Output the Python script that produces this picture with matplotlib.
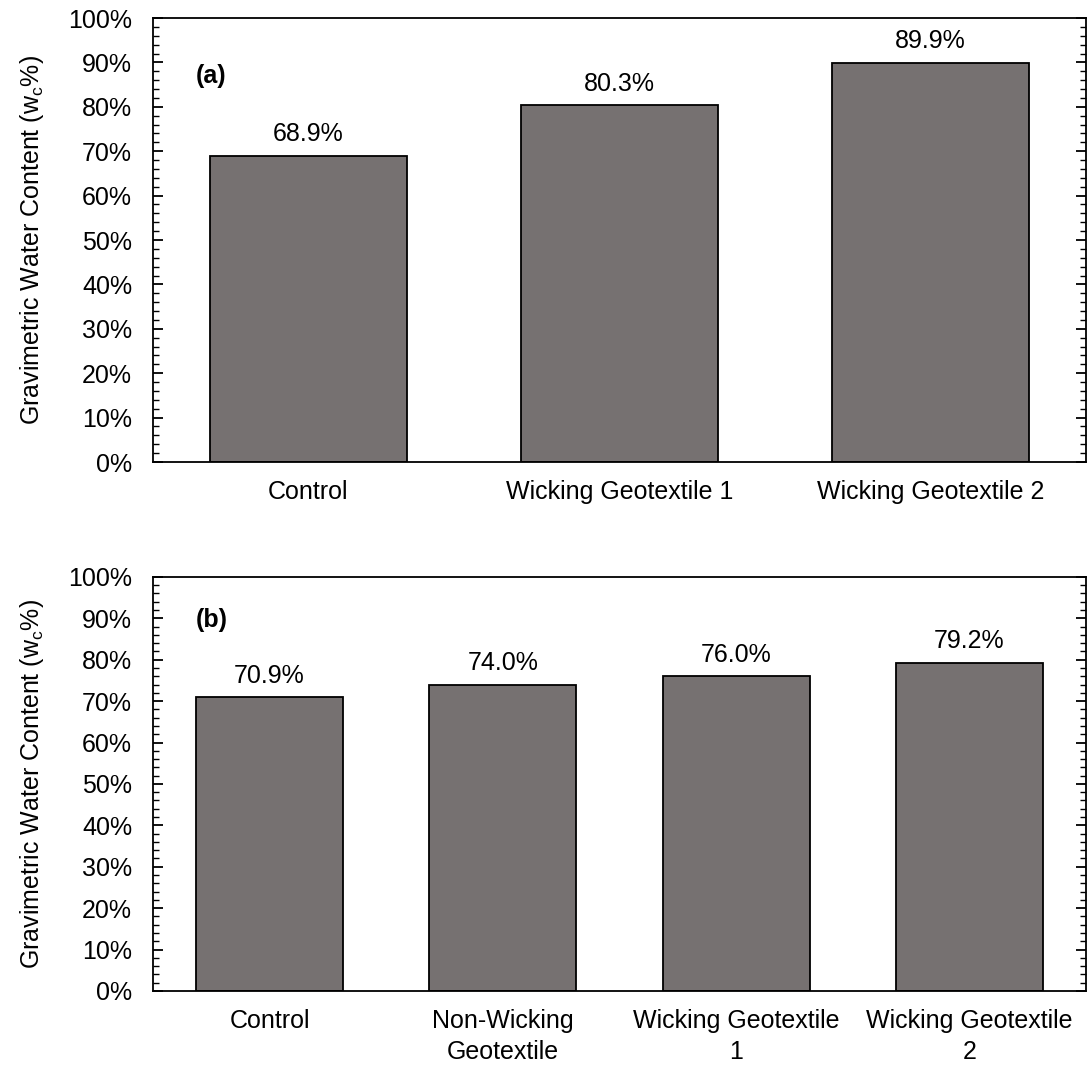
import matplotlib
matplotlib.use("Agg")
import matplotlib.pyplot as plt
from matplotlib.ticker import MultipleLocator, PercentFormatter

plt.rcParams['font.family'] = ['Liberation Sans', 'DejaVu Sans']

# Panel (a)
cats_a = ["Control", "Wicking Geotextile 1", "Wicking Geotextile 2"]
vals_a = [68.9, 80.3, 89.9]

# Panel (b)
cats_b = ["Control", "Non-Wicking\nGeotextile", "Wicking Geotextile\n1", "Wicking Geotextile\n2"]
vals_b = [70.9, 74.0, 76.0, 79.2]

BAR_COLOR = "#767171"
FS = 18

fig = plt.figure(figsize=(10.88, 10.66), dpi=100)
ax_a = fig.add_axes([0.1406, 0.5666, 0.8576, 0.4165])
ax_b = fig.add_axes([0.1406, 0.0704, 0.8576, 0.3884])


def draw_panel(ax, cats, vals, tag, tag_xy, width):
    x = range(len(cats))
    ax.bar(x, vals, width=width, color=BAR_COLOR, edgecolor="black", linewidth=1.3)
    for xi, v in zip(x, vals):
        ax.annotate(f"{v:.1f}%", (xi, v), xytext=(0, 7), textcoords="offset points",
                    ha="center", va="bottom", fontsize=FS)
    ax.set_xlim(-0.5, len(cats) - 0.5)
    ax.set_ylim(0, 100)
    ax.set_xticks(list(x))
    ax.set_xticklabels(cats, fontsize=FS, linespacing=1.35)
    ax.yaxis.set_major_locator(MultipleLocator(10))
    ax.yaxis.set_minor_locator(MultipleLocator(2))
    ax.yaxis.set_major_formatter(PercentFormatter(decimals=0))
    ax.tick_params(axis="y", which="major", direction="in", length=7, width=1.3,
                   right=True, labelsize=FS, pad=15)
    ax.tick_params(axis="y", which="minor", direction="in", length=4, width=1.0, right=True)
    ax.tick_params(axis="x", which="both", length=0, pad=13)
    for s in ax.spines.values():
        s.set_linewidth(1.3)
        s.set_color("black")
    ax.set_ylabel("Gravimetric Water Content (w$_{\\mathregular{c}}$%)", fontsize=FS, labelpad=16)
    ax.text(tag_xy[0], tag_xy[1], tag, transform=ax.transAxes, fontsize=FS,
            fontweight="bold", ha="left", va="center")


draw_panel(ax_a, cats_a, vals_a, "(a)", (0.046, 0.87), 0.635)
draw_panel(ax_b, cats_b, vals_b, "(b)", (0.046, 0.896), 0.63)

fig.savefig("out.png", dpi=100)
